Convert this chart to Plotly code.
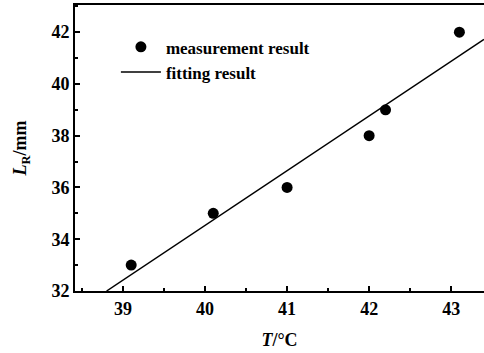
import plotly.graph_objects as go

# Data
temp_c = [39.1, 40.1, 41.0, 42.0, 42.2, 43.1]
length_mm = [33, 35, 36, 38, 39, 42]
fit_temp = [38.8, 43.4]
fit_length = [32.0, 41.72]
x_ticks = [39, 40, 41, 42, 43]
y_ticks = [32, 34, 36, 38, 40, 42]

FONT = "Liberation Serif"

fig = go.Figure()
fig.add_trace(go.Scatter(
    x=temp_c, y=length_mm, mode="markers", name="<b>measurement result</b>",
    marker=dict(color="black", size=11, symbol="circle"),
))
fig.add_trace(go.Scatter(
    x=fit_temp, y=fit_length, mode="lines", name="<b>fitting result</b>",
    line=dict(color="black", width=1.5),
))

axis_common = dict(
    showgrid=False, zeroline=False, showline=True, linecolor="black", linewidth=2,
    ticks="inside", ticklen=5, tickwidth=1.5, tickcolor="black",
    tickfont=dict(family=FONT, size=18, color="black"),
    automargin=False,
)

fig.update_layout(
    width=484, height=353,
    margin=dict(l=75, r=0, t=5, b=62),
    paper_bgcolor="white", plot_bgcolor="white",
    font=dict(family=FONT, color="black"),
    showlegend=True,
    legend=dict(
        x=0.1, y=0.915, xanchor="left", yanchor="top",
        bgcolor="rgba(0,0,0,0)", font=dict(family=FONT, size=17, color="black"),
        tracegroupgap=0, itemwidth=40,
    ),
    xaxis=dict(
        **axis_common, range=[38.415, 43.4], tickvals=x_ticks,
        ticktext=[f"<b>{v}</b>" for v in x_ticks], mirror=True,
        minor=dict(dtick=0.5, ticks="inside", ticklen=3, tickcolor="black", showgrid=False),
        title=dict(text="<b><i>T</i>/°C</b>", font=dict(family=FONT, size=18), standoff=16),
    ),
    yaxis=dict(
        **axis_common, range=[32, 43.05], tickvals=y_ticks,
        ticktext=[f"<b>{v}</b>" for v in y_ticks],
        minor=dict(dtick=1, ticks="inside", ticklen=3, tickcolor="black", showgrid=False),
        title=dict(text="<b><i>L</i><sub>R</sub>/mm</b>", font=dict(family=FONT, size=18), standoff=20),
    ),
)

fig.write_html("out.html", config={"displayModeBar": False},
               post_script="document.body.style.margin='0';")
